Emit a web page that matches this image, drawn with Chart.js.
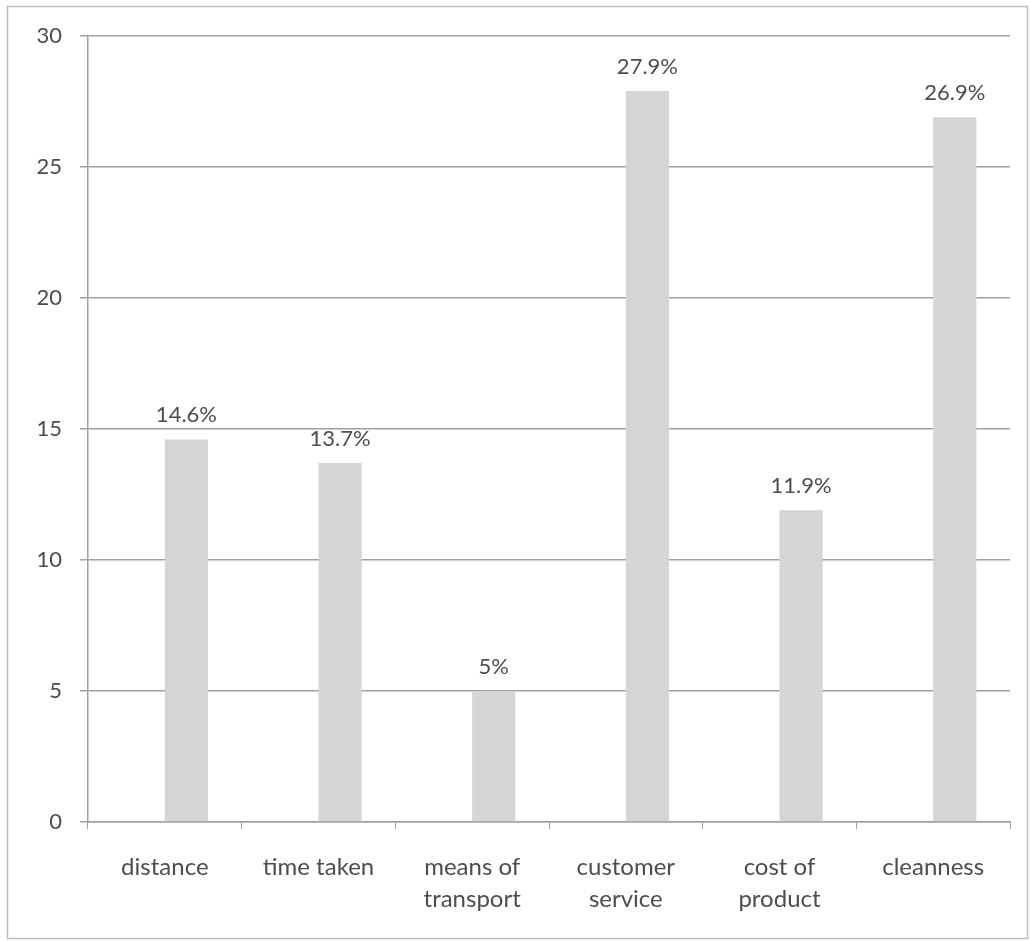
<!DOCTYPE html>
<html>
<head>
<meta charset="utf-8">
<script src="https://cdn.jsdelivr.net/npm/chart.js@4/dist/chart.umd.min.js"></script>
<style>
html,body{margin:0;padding:0;background:#fff;}
#wrap{width:1031px;height:941px;position:relative;}
</style>
</head>
<body>
<div id="wrap"><canvas id="c" width="1031" height="941"></canvas></div>
<script>
const categories = [["distance"], ["time taken"], ["means of", "transport"], ["customer", "service"], ["cost of", "product"], ["cleanness"]];
const values = [14.6, 13.7, 5, 27.9, 11.9, 26.9];
const emptySeries = [null, null, null, null, null, null];
const yTicks = [0, 5, 10, 15, 20, 25, 30];

const textColor = '#4d4d4d';
const gridColor = '#a0a0a0';
const fontFamily = 'Lato, "Open Sans", sans-serif';

const frame = {
  id: 'frame',
  beforeDraw(chart) {
    const ctx = chart.ctx;
    ctx.save();
    ctx.fillStyle = '#fff';
    ctx.fillRect(0, 0, chart.width, chart.height);
    ctx.restore();
  },
  afterDraw(chart) {
    const ctx = chart.ctx;
    ctx.save();
    ctx.strokeStyle = '#bdbdbd';
    ctx.lineWidth = 1.5;
    ctx.strokeRect(7.5, 6.5, 1020, 932);
    ctx.restore();
  }
};

const barLabels = {
  id: 'barLabels',
  afterDatasetsDraw(chart) {
    const ctx = chart.ctx;
    const meta = chart.getDatasetMeta(1);
    ctx.save();
    ctx.fillStyle = textColor;
    ctx.font = '22px ' + fontFamily;
    ctx.textAlign = 'center';
    ctx.textBaseline = 'alphabetic';
    meta.data.forEach((bar, i) => {
      ctx.fillText(values[i] + '%', bar.x, bar.y - 17);
    });
    ctx.restore();
  }
};

new Chart(document.getElementById('c'), {
  type: 'bar',
  data: {
    labels: categories,
    datasets: [
      { data: emptySeries, backgroundColor: 'rgba(0,0,0,0)' },
      { data: values, backgroundColor: '#d5d5d5', borderWidth: 0 }
    ]
  },
  options: {
    responsive: false,
    animation: false,
    devicePixelRatio: 1,
    categoryPercentage: 0.562,
    barPercentage: 1,
    layout: { padding: { left: 0, right: 21, top: 36, bottom: 0 } },
    plugins: { legend: { display: false }, tooltip: { enabled: false } },
    scales: {
      x: {
        grid: { drawOnChartArea: false, color: gridColor, tickLength: 7, offset: true },
        border: { color: gridColor, width: 1.5 },
        ticks: { color: textColor, font: { family: fontFamily, size: 24, lineHeight: 1.3 }, padding: 23, maxRotation: 0, autoSkip: false },
        afterFit(scale) { scale.height = 941 - 822; }
      },
      y: {
        min: 0, max: 30,
        afterBuildTicks(scale) { scale.ticks = yTicks.map(v => ({ value: v })); },
        grid: { color: gridColor, lineWidth: 1.5, tickLength: 8 },
        border: { color: gridColor, width: 1.5 },
        ticks: { color: textColor, font: { family: fontFamily, size: 22 }, padding: 18 },
        afterFit(scale) { scale.width = 88; }
      }
    }
  },
  plugins: [frame, barLabels]
});
</script>
</body>
</html>
